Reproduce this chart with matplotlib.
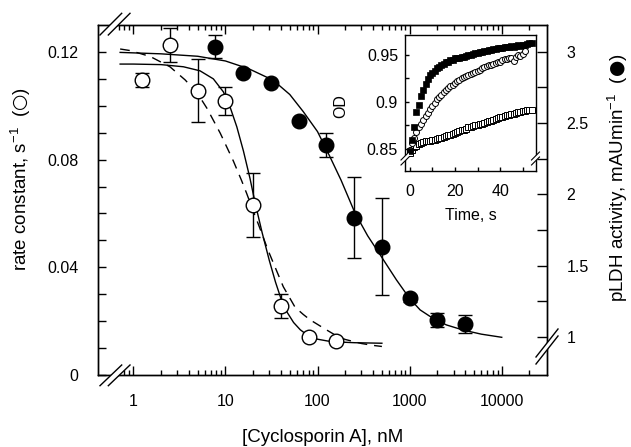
import matplotlib
matplotlib.use('Agg')
import matplotlib.pyplot as plt
from matplotlib.lines import Line2D
from matplotlib.patches import Polygon
from matplotlib.ticker import FixedLocator, NullFormatter, FuncFormatter

plt.rcParams['font.family'] = ['Liberation Sans', 'DejaVu Sans']
plt.rcParams['mathtext.fontset'] = 'custom'
plt.rcParams['mathtext.rm'] = 'Liberation Sans'
plt.rcParams['mathtext.it'] = 'Liberation Sans:italic'
plt.rcParams['mathtext.bf'] = 'Liberation Sans:bold'
plt.rcParams['mathtext.sf'] = 'DejaVu Sans'
plt.rcParams['mathtext.default'] = 'regular'

# ---------------- data ----------------
csa_open = [1.25, 2.5, 5, 10, 20, 40, 80, 160]
rate_open = [0.1096, 0.1226, 0.1055, 0.1018, 0.0631, 0.0257, 0.0142, 0.0127]
rate_err = [0.0026, 0.0062, 0.0117, 0.0051, 0.0120, 0.0045, 0.0, 0.0]

csa_filled = [7.8, 15.6, 31.25, 62.5, 125, 250, 500, 1000, 2000, 4000]
pldh = [3.035, 2.849, 2.779, 2.516, 2.346, 1.837, 1.633, 1.271, 1.120, 1.092]
pldh_err = [0.081, 0.0, 0.0, 0.0, 0.082, 0.285, 0.340, 0.025, 0.051, 0.063]

# fitted curves
fit_open_x = [0.72, 1, 2, 3.5, 5.3, 7.4, 9.5, 11.2, 13.3, 15.7, 18.5, 21, 25, 30,
              35, 40, 47, 55, 65, 80, 100, 130, 160, 250, 500]
fit_open_y = [0.1155, 0.1155, 0.1153, 0.1145, 0.1130, 0.1100, 0.1052, 0.0997,
              0.0922, 0.0832, 0.0730, 0.0640, 0.0530, 0.0425, 0.0345, 0.0285,
              0.0232, 0.0195, 0.0168, 0.0145, 0.0133, 0.0126, 0.0123, 0.0120, 0.0118]

fit_dash_x = [0.72, 0.93, 1.53, 2.5, 3.66, 5, 6.3, 8.8, 12.2, 15, 17, 20, 22.8,
              29, 34.5, 42.5, 57, 70, 83, 126, 160, 200, 300, 400, 500]
fit_dash_y = [0.1211, 0.1205, 0.1183, 0.1145, 0.1096, 0.1045, 0.0991, 0.0898,
              0.0795, 0.0722, 0.0675, 0.0610, 0.0560, 0.0464, 0.0402, 0.0328,
              0.0252, 0.0225, 0.0205, 0.0167, 0.0146, 0.0132, 0.0117, 0.0110, 0.0106]

fit_fill_x = [0.72, 2, 5, 10, 18, 33, 50, 70, 100, 135, 180, 255, 350, 480, 720,
              1000, 1300, 1660, 2500, 3800, 6000, 10000]
fit_fill_y = [2.995, 2.985, 2.968, 2.935, 2.88, 2.80, 2.70, 2.58, 2.44, 2.27,
              2.10, 1.87, 1.71, 1.575, 1.40, 1.27, 1.19, 1.145, 1.085, 1.049,
              1.02, 0.998]

# inset kinetic traces
t_fast = [0, 1, 2, 3, 4, 5, 6, 7, 8, 9, 10, 11, 12, 13, 14, 15, 16, 17, 18, 19,
          20, 21, 22, 23, 24, 25, 26, 27, 28, 29, 30, 31, 32, 33, 34, 35, 36, 37,
          38, 39, 40, 41, 42, 43, 44, 45, 46, 47, 48, 49, 50, 51, 52, 53, 54]
od_fast = [0.848, 0.860, 0.873, 0.889, 0.897, 0.906, 0.913, 0.919, 0.924, 0.928,
           0.931, 0.933, 0.936, 0.937, 0.939, 0.940, 0.942, 0.942, 0.944, 0.944,
           0.946, 0.946, 0.947, 0.948, 0.948, 0.949, 0.950, 0.950, 0.951, 0.952,
           0.952, 0.953, 0.953, 0.954, 0.954, 0.955, 0.955, 0.956, 0.956, 0.957,
           0.957, 0.957, 0.958, 0.958, 0.958, 0.959, 0.958, 0.959, 0.960, 0.959,
           0.960, 0.960, 0.961, 0.962, 0.962]

t_mid = [0, 1, 2, 3, 4, 5, 6, 7, 8, 9, 10, 11, 12, 13, 14, 15, 16, 17, 18, 19,
         20, 21, 22, 23, 24, 25, 26, 27, 28, 29, 30, 31, 32, 33, 34, 35, 36, 37,
         38, 39, 40, 41, 42, 43, 44, 45, 46, 47, 48, 49, 50, 51]
od_mid = [0.849, 0.856, 0.862, 0.868, 0.873, 0.877, 0.881, 0.885, 0.888, 0.892,
          0.896, 0.899, 0.903, 0.905, 0.907, 0.910, 0.913, 0.915, 0.917, 0.918,
          0.920, 0.922, 0.923, 0.925, 0.926, 0.927, 0.929, 0.930, 0.931, 0.932,
          0.933, 0.934, 0.936, 0.937, 0.938, 0.939, 0.939, 0.940, 0.941, 0.942,
          0.942, 0.944, 0.945, 0.945, 0.947, 0.946, 0.943, 0.948, 0.950, 0.949,
          0.951, 0.954]

t_slow = [0, 1, 2, 3, 4, 5, 6, 7, 8, 9, 10, 11, 12, 13, 14, 15, 16, 17, 18, 19,
          20, 21, 22, 23, 24, 25, 26, 27, 28, 29, 30, 31, 32, 33, 34, 35, 36, 37,
          38, 39, 40, 41, 42, 43, 44, 45, 46, 47, 48, 49, 50, 51, 52, 53, 54]
od_slow = [0.846, 0.849, 0.852, 0.853, 0.855, 0.856, 0.857, 0.858, 0.858, 0.859,
           0.860, 0.860, 0.861, 0.862, 0.862, 0.863, 0.864, 0.865, 0.865, 0.866,
           0.867, 0.868, 0.869, 0.870, 0.870, 0.871, 0.873, 0.873, 0.874, 0.875,
           0.876, 0.877, 0.877, 0.878, 0.879, 0.880, 0.880, 0.881, 0.882, 0.883,
           0.884, 0.884, 0.885, 0.886, 0.886, 0.887, 0.887, 0.888, 0.889, 0.889,
           0.890, 0.890, 0.891, 0.891, 0.891]

x_major = [1, 10, 100, 1000, 10000]
x_minor = [0.7, 0.8, 0.9, 2, 3, 4, 5, 6, 7, 8, 9, 20, 30, 40, 50, 60, 70, 80, 90,
           200, 300, 400, 500, 600, 700, 800, 900, 2000, 3000, 4000, 5000, 6000,
           7000, 8000, 9000, 20000]
left_major = [0, 0.04, 0.08, 0.12]
left_minor = [0.01, 0.02, 0.03, 0.05, 0.06, 0.07, 0.09, 0.10, 0.11]
right_major = [1, 1.5, 2, 2.5, 3]
right_minor = [1.25, 1.75, 2.25, 2.75]

# ---------------- figure ----------------
W, H = 631, 447
fig = plt.figure(figsize=(W / 100, H / 100), dpi=100)


def fx(px):
    return px / W


def fy(py):
    return 1 - py / H


L, R, T, B = 98, 547, 24.5, 375
ax = fig.add_axes([fx(L), fy(B), (R - L) / W, (B - T) / H])
ax.set_xscale('log')
ax.set_xlim(0.414, 31000)
ax.set_ylim(0, 0.1302)
ax2 = ax.twinx()
ax2.set_ylim(0.7337, 3.1906)

for a in (ax, ax2):
    for s in a.spines.values():
        s.set_linewidth(1.0)

# curves
ax.plot(fit_open_x, fit_open_y, color='black', lw=1.0, zorder=2)
ax.plot(fit_dash_x, fit_dash_y, color='black', lw=1.0, ls=(0, (7, 5)), zorder=2)
ax2.plot(fit_fill_x, fit_fill_y, color='black', lw=1.0, zorder=2)

# error bars + markers
ax.errorbar(csa_open, rate_open, yerr=rate_err, fmt='none', ecolor='black',
            elinewidth=1.0, capsize=4.8, capthick=1.0, zorder=3)
ax.plot(csa_open, rate_open, 'o', ms=10.5, mfc='white', mec='black', mew=1.0,
        zorder=4)
ax2.errorbar(csa_filled, pldh, yerr=pldh_err, fmt='none', ecolor='black',
             elinewidth=1.0, capsize=4.8, capthick=1.0, zorder=3)
ax2.plot(csa_filled, pldh, 'o', ms=10.5, mfc='black', mec='black', mew=1.0,
         zorder=4)

# ticks
ax.xaxis.set_major_locator(FixedLocator(x_major))
ax.xaxis.set_minor_locator(FixedLocator(x_minor))
ax.xaxis.set_major_formatter(FuncFormatter(lambda v, p: '%d' % v))
ax.xaxis.set_minor_formatter(NullFormatter())
ax.yaxis.set_major_locator(FixedLocator(left_major))
ax.yaxis.set_minor_locator(FixedLocator(left_minor))
ax.yaxis.set_major_formatter(FuncFormatter(lambda v, p: '%g' % v))
ax2.yaxis.set_major_locator(FixedLocator(right_major))
ax2.yaxis.set_minor_locator(FixedLocator(right_minor))
ax2.yaxis.set_major_formatter(FuncFormatter(lambda v, p: '%g' % v))

ax.tick_params(axis='x', which='major', direction='in', top=True, bottom=True,
               length=6.5, width=1.0, pad=14, labelsize=11.5)
ax.tick_params(axis='x', which='minor', direction='in', top=True, bottom=True,
               length=3.6, width=1.0)
ax.tick_params(axis='y', which='both', direction='in', left=True, right=False,
               length=5.8, width=1.0, pad=14, labelsize=11.5)
ax2.tick_params(axis='y', which='both', direction='in', left=False, right=True,
                length=7.5, width=1.0, pad=14, labelsize=11.5)

# labels
fig.text(fx(322.5), fy(437), '[Cyclosporin A], nM', ha='center', va='center',
         fontsize=13.5)
fig.text(fx(21), fy(179), r'rate constant, s$^{-1}$  ($\mathsf{○}$)',
         ha='center', va='center', rotation=90, fontsize=13.5)
fig.text(fx(618), fy(178), r'pLDH activity, mAUmin$^{-1}$  ($\mathsf{●}$)',
         ha='center', va='center', rotation=90, fontsize=13.5)

# ---------------- inset ----------------
iL, iR, iT, iB = 405, 535.7, 35, 171
axi = fig.add_axes([fx(iL), fy(iB), (iR - iL) / W, (iB - iT) / H])
axi.set_xlim(-2.08, 55.75)
axi.set_ylim(0.8267, 0.9709)
axi.set_facecolor('white')
for s in axi.spines.values():
    s.set_linewidth(1.0)
axi.plot(t_slow, od_slow, 's', ms=4.2, mfc='white', mec='black', mew=0.7,
         zorder=2)
axi.plot(t_mid, od_mid, 'o', ms=4.3, mfc='white', mec='black', mew=0.7,
         zorder=3)
axi.plot(t_fast, od_fast, 's', ms=4.0, mfc='black', mec='black', mew=0.5,
         zorder=4)
axi.xaxis.set_major_locator(FixedLocator([0, 20, 40]))
axi.xaxis.set_minor_locator(FixedLocator([10, 30, 50]))
axi.yaxis.set_major_locator(FixedLocator([0.85, 0.9, 0.95]))
axi.yaxis.set_minor_locator(FixedLocator([0.875, 0.925]))
axi.yaxis.set_major_formatter(FuncFormatter(lambda v, p: '%g' % v))
axi.tick_params(which='both', direction='in', length=3.0, width=1.0,
                labelsize=11.5, top=False, right=False)
axi.tick_params(axis='x', pad=9)
axi.tick_params(axis='y', pad=5)
fig.text(fx(341), fy(106), 'OD', ha='center', va='center', rotation=90,
         fontsize=11.5)
fig.text(fx(471), fy(216), 'Time, s', ha='center', va='center', fontsize=11.5)


# ---------------- axis breaks ----------------
def brk(p1a, p1b, p2a, p2b, lw=1.0):
    poly = Polygon([(fx(p1a[0]), fy(p1a[1])), (fx(p1b[0]), fy(p1b[1])),
                    (fx(p2b[0]), fy(p2b[1])), (fx(p2a[0]), fy(p2a[1]))],
                   closed=True, transform=fig.transFigure, facecolor='white',
                   edgecolor='none', zorder=10)
    fig.add_artist(poly)
    for a, b in ((p1a, p1b), (p2a, p2b)):
        fig.add_artist(Line2D([fx(a[0]), fx(b[0])], [fy(a[1]), fy(b[1])],
                              transform=fig.transFigure, color='black', lw=lw,
                              zorder=11))


brk((100, 385.7), (121.7, 365), (108.3, 385.7), (130, 365))
brk((100, 35), (121.7, 13.3), (108.3, 35), (130, 13.3))
brk((536, 364), (558, 336), (536, 357), (558, 329))
brk((401, 165), (409, 157), (401, 160), (409, 152), lw=0.8)
brk((531.5, 165), (539.5, 157), (531.5, 160), (539.5, 152), lw=0.8)

fig.savefig('out.png', dpi=100)
